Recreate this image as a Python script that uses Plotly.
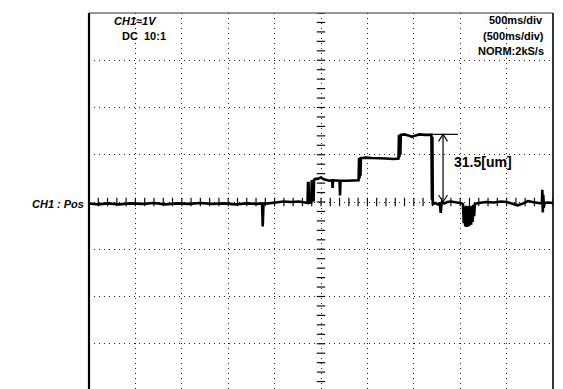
import plotly.graph_objects as go

# ---- scope settings -------------------------------------------------------
SEC_PER_DIV = 0.5          # 500 ms/div
VOLT_PER_DIV = 1.0         # CH1 1 V/div
N_XDIV = 10
N_YDIV = 8
UM_PER_V = 22.0            # displacement sensor scale
STEP_TOTAL_UM = 31.5       # measured total displacement

# ---- captured CH1 position signal (time [s], volts) -----------------------
T_S = [
    0.00, 0.10, 0.20, 0.32, 0.45, 0.58, 0.70, 0.82, 0.95, 1.08, 1.20, 1.33,
    1.46, 1.58, 1.70, 1.80, 1.865, 1.872, 1.880, 1.95, 2.02, 2.10, 2.18, 2.26,
    2.33, 2.355, 2.360, 2.366, 2.370, 2.395,
    2.400, 2.410, 2.415, 2.420, 2.425, 2.440, 2.460, 2.500, 2.530, 2.560,
    2.590, 2.620, 2.625, 2.630, 2.700, 2.705, 2.710, 2.780, 2.860, 2.905,
    2.910, 2.915, 2.920, 2.925, 2.930, 2.980, 3.050, 3.120, 3.200, 3.280, 3.335,
    3.340, 3.345, 3.350, 3.355, 3.360, 3.400, 3.440, 3.480, 3.520, 3.560,
    3.620, 3.680, 3.690,
    3.695, 3.700, 3.705, 3.730, 3.760, 3.780, 3.790, 3.800, 3.830, 3.860,
    3.900, 3.950, 4.000, 4.020,
    4.030, 4.038, 4.046, 4.054, 4.062, 4.070, 4.078, 4.086, 4.094, 4.102,
    4.110, 4.118, 4.126, 4.134, 4.142, 4.150, 4.158,
    4.200, 4.280, 4.360, 4.440, 4.500, 4.560, 4.620, 4.680, 4.730, 4.780,
    4.840, 4.880, 4.885, 4.890, 4.895, 4.900, 4.910, 4.950, 5.000,
]
POS_V = [
    -0.03, -0.05, -0.03, -0.05, -0.03, -0.04, -0.02, -0.05, -0.03, -0.04, -0.02, -0.04,
    -0.03, -0.05, -0.03, -0.04, -0.03, -0.52, -0.04, -0.02, -0.01, 0.01, 0.00, 0.01,
    -0.01, -0.02, 0.40, 0.40, -0.02, -0.01,
    0.46, 0.42, 0.02, 0.03, 0.47, 0.49, 0.49, 0.52, 0.48, 0.47,
    0.45, 0.46, 0.30, 0.46, 0.45, 0.14, 0.45, 0.45, 0.46, 0.46,
    0.93, 0.50, 0.94, 0.55, 0.93, 0.94, 0.93, 0.93, 0.92, 0.91, 0.92,
    1.42, 0.95, 1.43, 1.00, 1.42, 1.43, 1.41, 1.38, 1.41, 1.43,
    1.42, 1.43, 1.42,
    0.05, 1.38, -0.05, -0.02, -0.05, -0.02, -0.23, -0.02, -0.03, 0.00,
    0.01, 0.00, -0.02, -0.03,
    -0.05, -0.45, -0.10, -0.52, -0.08, -0.53, -0.10, -0.52, -0.08, -0.50,
    -0.10, -0.48, -0.08, -0.42, -0.06, -0.30, -0.04,
    -0.02, 0.00, -0.01, 0.01, 0.00, -0.04, -0.07, -0.03, 0.02, 0.00,
    -0.01, -0.03, 0.26, -0.22, 0.15, -0.12, -0.02, -0.01, -0.02,
]

# cursor measurement
CURSOR_T = 3.815
CURSOR_LINE_T = [3.675, 3.976]
STEP_TOTAL_V = STEP_TOTAL_UM / UM_PER_V

# ---- page geometry ----------------------------------------------------------
W, H = 563, 389
ML, MR, MT, MB = 89, 10, 13, 0
PLOT_W = W - ML - MR
PLOT_H = H - MT - MB
PX_PER_XDIV = PLOT_W / N_XDIV
PX_PER_YDIV = 47.25
X_MAX = N_XDIV * SEC_PER_DIV
Y_TOP = N_YDIV / 2 * VOLT_PER_DIV
Y_BOT = Y_TOP - PLOT_H / PX_PER_YDIV * VOLT_PER_DIV

sx = SEC_PER_DIV / PX_PER_XDIV     # seconds per pixel
sy = VOLT_PER_DIV / PX_PER_YDIV    # volts per pixel

fig = go.Figure()

# centre graticule ticks (5 minor ticks per division)
minor_y = [k * VOLT_PER_DIV / 5 for k in range(-5 * N_YDIV // 2, 5 * N_YDIV // 2 + 1)]
minor_x = [k * SEC_PER_DIV / 5 for k in range(0, 5 * N_XDIV + 1)]
fig.add_trace(go.Scatter(
    x=[X_MAX / 2] * len(minor_y), y=minor_y, mode="markers",
    marker=dict(symbol="line-ew", size=6, line=dict(width=1.2, color="#111")),
    hoverinfo="skip", showlegend=False))
fig.add_trace(go.Scatter(
    x=minor_x, y=[0] * len(minor_x), mode="markers",
    marker=dict(symbol="line-ns", size=6, line=dict(width=1.2, color="#111")),
    hoverinfo="skip", showlegend=False))

# signal
fig.add_trace(go.Scatter(
    x=T_S, y=POS_V, mode="lines",
    line=dict(color="black", width=2.6),
    hoverinfo="skip", showlegend=False))

# cursor: vertical measure line and top reference line
fig.add_trace(go.Scatter(
    x=[CURSOR_T, CURSOR_T], y=[0, STEP_TOTAL_V], mode="lines",
    line=dict(color="black", width=1.2), hoverinfo="skip", showlegend=False))
fig.add_trace(go.Scatter(
    x=CURSOR_LINE_T, y=[STEP_TOTAL_V, STEP_TOTAL_V], mode="lines",
    line=dict(color="black", width=1.2), hoverinfo="skip", showlegend=False))

# open arrow heads at both ends of the measure line
ah_w, ah_h = 4.5 * sx, 7 * sy
fig.add_trace(go.Scatter(
    x=[CURSOR_T - ah_w, CURSOR_T, CURSOR_T + ah_w, None,
       CURSOR_T - ah_w, CURSOR_T, CURSOR_T + ah_w],
    y=[STEP_TOTAL_V - ah_h, STEP_TOTAL_V, STEP_TOTAL_V - ah_h, None,
       ah_h, 0, ah_h],
    mode="lines", line=dict(color="black", width=1.1),
    hoverinfo="skip", showlegend=False))

grid_dash = "1px,4px"
fig.update_xaxes(range=[0, X_MAX], dtick=SEC_PER_DIV, tick0=0,
                 showgrid=True, gridcolor="#222", gridwidth=1, griddash=grid_dash,
                 showticklabels=False, ticks="", zeroline=False, showline=False,
                 fixedrange=True)
fig.update_yaxes(range=[Y_BOT, Y_TOP], dtick=VOLT_PER_DIV, tick0=0,
                 showgrid=True, gridcolor="#222", gridwidth=1, griddash=grid_dash,
                 showticklabels=False, ticks="", zeroline=False, showline=False,
                 fixedrange=True)

# frame: heavy left edge, thin top, medium right
fig.add_shape(type="line", xref="x domain", yref="y domain", x0=0, x1=0, y0=0, y1=1,
              line=dict(color="black", width=2.2))
fig.add_shape(type="line", xref="x domain", yref="y domain", x0=1, x1=1, y0=0, y1=1,
              line=dict(color="black", width=1.6))
fig.add_shape(type="line", xref="x domain", yref="y domain", x0=0, x1=1, y0=1, y1=1,
              line=dict(color="#333", width=1.1))

FONT = "Liberation Sans, Arial, sans-serif"


def px(x, y):
    # page pixel -> plotly paper fraction (paper spans the plotting area)
    return (x - ML) / PLOT_W, (H - MB - y) / PLOT_H


def label(text, x, y, size, anchor="left", italic=False):
    ax, ay = px(x, y)
    fig.add_annotation(
        text=f"<b><i>{text}</i></b>" if italic else f"<b>{text}</b>",
        x=ax, y=ay, xref="paper", yref="paper", xanchor=anchor, yanchor="middle",
        showarrow=False, font=dict(family=FONT, size=size, color="black"))


label("CH1≈1V", 112, 21, 11, italic=True)
label("DC  10:1", 120, 36, 11)
label("500ms/div", 545, 20, 11, anchor="right")
label("(500ms/div)", 546, 36, 11, anchor="right")
label("NORM:2kS/s", 546, 51, 11, anchor="right")
label("CH1 : Pos", 86, 204, 11, anchor="right", italic=True)

fig.add_annotation(text=f"<b>{STEP_TOTAL_UM:g}[um]</b>",
                   x=CURSOR_T + 9 * sx, y=(202 - 162) * sy,
                   xref="x", yref="y", xanchor="left", yanchor="middle",
                   showarrow=False, font=dict(family=FONT, size=14, color="black"))

fig.update_layout(
    width=W, height=H,
    margin=dict(l=ML, r=MR, t=MT, b=MB, pad=0),
    paper_bgcolor="white", plot_bgcolor="white",
    showlegend=False,
)

fig.write_html("out.html")
